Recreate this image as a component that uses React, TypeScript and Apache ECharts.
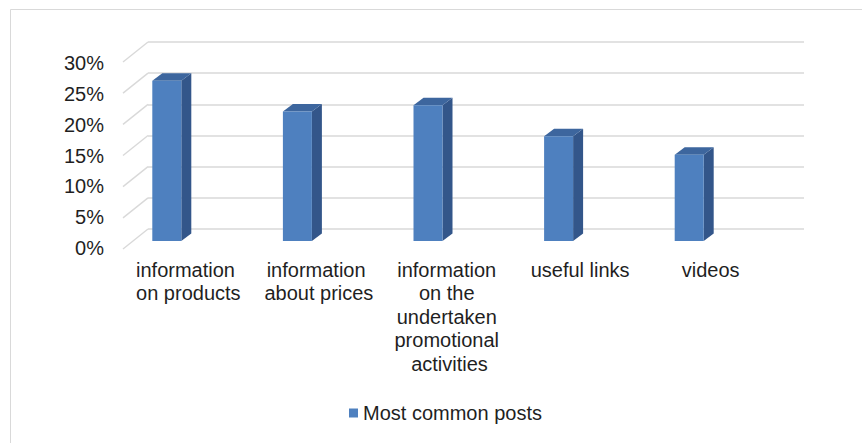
import React, { useEffect, useRef } from "react";
import * as echarts from "echarts";

const categories = [
  "information on products",
  "information about prices",
  "information on the undertaken promotional activities",
  "useful links",
  "videos",
];
const values = [26, 21, 22, 17, 14];
const seriesName = "Most common posts";
const tickValues = [0, 5, 10, 15, 20, 25, 30];

export default function App() {
  const ref = useRef<HTMLDivElement>(null);

  useEffect(() => {
    const chart = echarts.init(ref.current as HTMLDivElement, null, { renderer: "svg" });
    const FONT = "'Liberation Sans', Arial, sans-serif";
    const GRID_COLOR = "#D9D9D9";
    const TEXT_COLOR = "#1F1F1F";
    const DEPTH_X = -25;
    const DEPTH_Y = 20;
    const BAR_W = 29;
    const BAR_DX = 10;
    const BAR_DY = -7.5;
    const BAR_SHIFT = -21.5;
    const BAR_LIFT = -7;
    const FRONT = "#4E80BF";
    const SIDE = "#33568A";
    const TOP = "#3D669E";

    chart.setOption({
      animation: false,
      backgroundColor: "#ffffff",
      textStyle: { fontFamily: FONT },
      graphic: [
        {
          type: "rect",
          z: -10,
          shape: { x: 10.5, y: 9.5, width: 900, height: 500 },
          style: { fill: "none", stroke: GRID_COLOR, lineWidth: 1 },
        },
      ],
      legend: {
        data: [{ name: seriesName, icon: "rect" }],
        left: 349,
        top: 403,
        padding: 0,
        itemWidth: 9,
        itemHeight: 9,
        itemGap: 0,
        textStyle: { fontSize: 20, color: TEXT_COLOR, fontFamily: FONT },
      },
      grid: [
        { left: 148, top: 42, width: 656, height: 187 },
        { left: 123, top: 63, width: 653, height: 185 },
      ],
      xAxis: [
        { type: "value", gridIndex: 0, min: 0, max: 5, show: false },
        {
          type: "category",
          gridIndex: 1,
          data: categories,
          axisLine: { show: false },
          axisTick: { show: false },
          splitLine: { show: false },
          axisLabel: {
            interval: 0,
            fontSize: 20,
            color: TEXT_COLOR,
            fontFamily: FONT,
            width: 115,
            overflow: "break",
            lineHeight: 23.5,
            margin: 10,
            align: "center",
          },
        },
      ],
      yAxis: [
        {
          type: "value",
          gridIndex: 0,
          min: 0,
          max: 30,
          interval: 5,
          axisLabel: { show: false },
          axisLine: { show: false },
          axisTick: { show: false },
          splitLine: { show: true, lineStyle: { color: GRID_COLOR, width: 1.5 } },
        },
        {
          type: "value",
          gridIndex: 1,
          min: 0,
          max: 30,
          interval: 5,
          axisLine: { show: false },
          axisTick: { show: false },
          splitLine: { show: false },
          axisLabel: {
            formatter: "{value}%",
            fontSize: 20,
            color: TEXT_COLOR,
            fontFamily: FONT,
            margin: 19,
          },
        },
      ],
      series: [
        {
          type: "custom",
          name: "depth",
          xAxisIndex: 0,
          yAxisIndex: 0,
          silent: true,
          data: tickValues.map((v) => [0, v]),
          encode: { x: 0, y: 1 },
          renderItem: (params: any, api: any) => {
            const p = api.coord([0, api.value(1)]);
            return {
              type: "line",
              shape: { x1: p[0], y1: p[1], x2: p[0] + DEPTH_X, y2: p[1] + DEPTH_Y },
              style: { stroke: GRID_COLOR, lineWidth: 1.5 },
            };
          },
        },
        {
          type: "custom",
          name: seriesName,
          xAxisIndex: 1,
          yAxisIndex: 1,
          itemStyle: { color: FRONT },
          data: values.map((v, i) => [i, v]),
          encode: { x: 0, y: 1 },
          renderItem: (params: any, api: any) => {
            const idx = api.value(0);
            const base = api.coord([idx, 0]);
            const top = api.coord([idx, api.value(1)]);
            const cx = base[0] + BAR_SHIFT;
            const x0 = cx - BAR_W / 2;
            const x1 = cx + BAR_W / 2;
            const yb = base[1] + BAR_LIFT;
            const yt = top[1] + BAR_LIFT;
            return {
              type: "group",
              children: [
                {
                  type: "polygon",
                  shape: {
                    points: [
                      [x1, yb],
                      [x1 + BAR_DX, yb + BAR_DY],
                      [x1 + BAR_DX, yt + BAR_DY],
                      [x1, yt],
                    ],
                  },
                  style: { fill: SIDE },
                },
                {
                  type: "polygon",
                  shape: {
                    points: [
                      [x0, yt],
                      [x1, yt],
                      [x1 + BAR_DX, yt + BAR_DY],
                      [x0 + BAR_DX, yt + BAR_DY],
                    ],
                  },
                  style: { fill: TOP },
                },
                {
                  type: "rect",
                  shape: { x: x0, y: yt, width: BAR_W, height: yb - yt },
                  style: { fill: FRONT },
                },
              ],
            };
          },
        },
      ],
    });

    return () => {
      chart.dispose();
    };
  }, []);

  return (
    <div
      ref={ref}
      style={{ position: "absolute", left: 0, top: 0, width: 862, height: 443 }}
    />
  );
}
